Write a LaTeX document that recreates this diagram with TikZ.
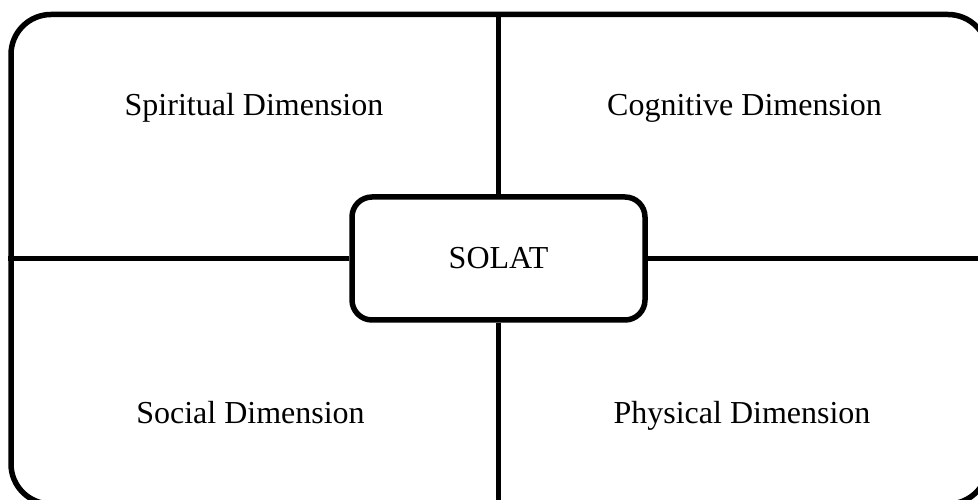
\documentclass[tikz,border=0pt]{standalone}
\usepackage{fontspec}
\setmainfont{Liberation Serif}
\usetikzlibrary{positioning}

\begin{document}
\begin{tikzpicture}[x=1pt,y=1pt,line width=5.5pt,
    label/.style={font=\fontsize{32}{38}\selectfont,anchor=base,inner sep=0pt}]
    \useasboundingbox (0,0) rectangle (978,500);

    % Frame
    \node[draw,rounded corners=40pt,minimum width=977pt,minimum height=489.5pt,inner sep=0pt] (frame) at (499.5,240.75) {};

    % Centre
    \node[draw,rounded corners=20pt,minimum width=293pt,minimum height=123pt,
          font=\fontsize{32}{38}\selectfont] (solat) at (498.5,241.5) {SOLAT};

    % Dividers
    \draw (solat.north) -- (solat.north |- frame.north);
    \draw (solat.south) -- (solat.south |- frame.south);
    \draw (solat.west) -- (solat.west -| frame.west);
    \draw (solat.east) -- (solat.east -| frame.east);

    % Quadrant labels
    \node[label] (spiritual) at (254,384) {Spiritual Dimension};
    \node[label] (cognitive) at (744.5,384) {Cognitive Dimension};
    \node[label] (social) at (250.5,76) {Social Dimension};
    \node[label] (physical) at (742,76) {Physical Dimension};
\end{tikzpicture}
\end{document}
